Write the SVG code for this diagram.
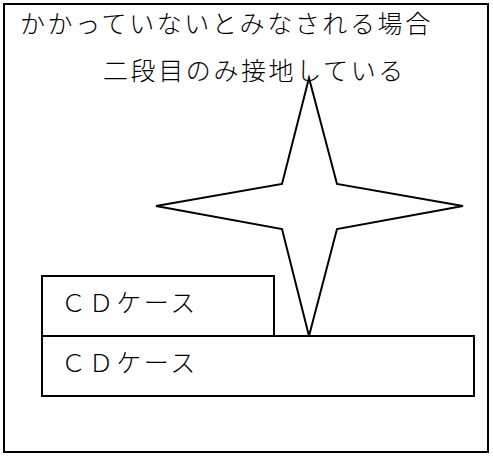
<svg xmlns="http://www.w3.org/2000/svg" width="493" height="456" viewBox="0 0 493 456">
<style>
.box{fill:#fff;stroke:#000;stroke-width:2}
.t{font-family:"Noto Sans CJK JP","Noto Sans CJK SC",sans-serif;font-size:25px;font-weight:300;fill:#000;letter-spacing:2.6px}
</style>
<rect id="frame" class="box" x="4" y="4" width="484" height="448"/>
<g id="title"><text class="t" x="20" y="33">かかっていないとみなされる場合</text></g>
<g id="label"><text class="t" x="103" y="80">二段目のみ接地している</text></g>
<g id="cd-top"><rect class="box" x="42" y="276" width="232" height="60"/><text class="t" x="61" y="312">ＣＤケース</text></g>
<g id="cd-bottom"><rect class="box" x="42" y="336" width="432" height="60"/><text class="t" x="61" y="372">ＣＤケース</text></g>
<g id="star"><polygon class="box" points="309,78 337,184 463,206 337,229 309,336 282,229 156,206 282,184"/></g>
<g id="connectors"></g>
</svg>
